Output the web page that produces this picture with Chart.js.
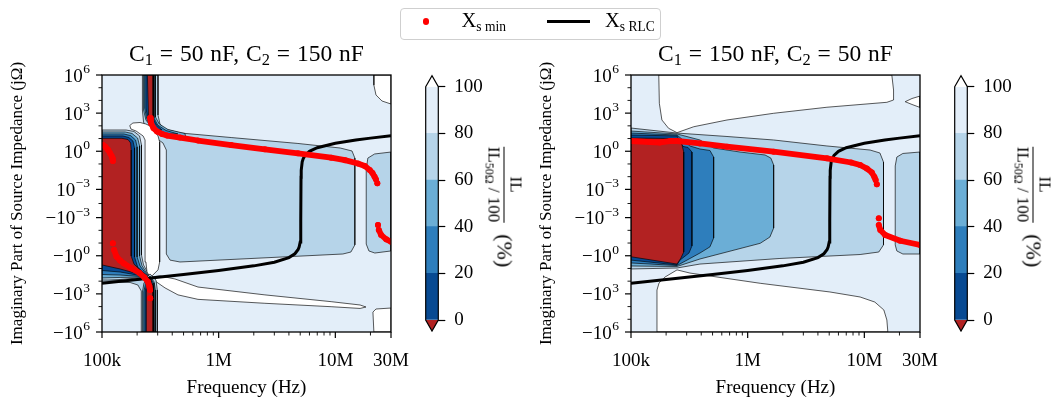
<!DOCTYPE html>
<html>
<head>
<meta charset="utf-8">
<script src="https://cdn.jsdelivr.net/npm/chart.js@4.4.1/dist/chart.umd.min.js"></script>
<style>
body{margin:0;background:#fff;font-family:"Liberation Serif","Times New Roman",serif;color:#000;}
#wrap{position:relative;width:1057px;height:398px;overflow:hidden;background:#fff;}
canvas{position:absolute;top:0;}
.txt{position:absolute;white-space:nowrap;line-height:1;}
.ttl{font-size:23.5px;word-spacing:1px;transform:translateX(-50%);}
sub{font-size:70%;vertical-align:-0.25em;line-height:0;}
#leg{position:absolute;left:400px;top:8px;width:259px;height:30px;border:1.5px solid #cfcfcf;border-radius:4px;background:#fff;}
.legtxt{font-size:20.5px;}
.legtxt sub{font-size:66%;vertical-align:-0.3em;}
.cbl{position:absolute;transform:translate(-50%,-50%) rotate(90deg);display:flex;align-items:center;white-space:nowrap;}
.frac{display:inline-flex;flex-direction:column;align-items:center;font-size:17px;line-height:1;}
.num{padding-bottom:3px;}
.den{border-top:1.3px solid #000;padding-top:1px;}
.pct{font-size:22px;margin-left:12px;line-height:1;}
</style>
</head>
<body>
<div id="wrap">
  <canvas id="plotL" width="430" height="398" style="left:0"></canvas>
  <canvas id="cbarL" width="100" height="398" style="left:400px"></canvas>
  <canvas id="plotR" width="430" height="398" style="left:529px"></canvas>
  <canvas id="cbarR" width="100" height="398" style="left:929px"></canvas>

  <div class="txt ttl" style="left:246.5px;top:42px">C<sub>1</sub> = 50 nF, C<sub>2</sub> = 150 nF</div>
  <div class="txt ttl" style="left:775.5px;top:42px">C<sub>1</sub> = 150 nF, C<sub>2</sub> = 50 nF</div>

  <div id="leg"></div>
  <div style="position:absolute;left:422.7px;top:18.2px;width:6.6px;height:6.6px;border-radius:50%;background:#ff0000"></div>
  <div class="txt legtxt" style="left:461.5px;top:10px">X<sub>s min</sub></div>
  <div style="position:absolute;left:546.7px;top:20px;width:43.3px;height:3px;background:#000"></div>
  <div class="txt legtxt" style="left:605px;top:10px">X<sub>s RLC</sub></div>

  <div class="cbl" style="left:505px;top:207px"><span class="frac"><span class="num">IL</span><span class="den">IL<sub>50Ω</sub> / 100</span></span><span class="pct">(%)</span></div>
  <div class="cbl" style="left:1034px;top:207px"><span class="frac"><span class="num">IL</span><span class="den">IL<sub>50Ω</sub> / 100</span></span><span class="pct">(%)</span></div>
</div>
<script>
// contour level colours: 0-20, 20-40, 40-60, 60-80, 80-100 ; below 0 / above 100
const levelColors = ['#084a92', '#2e7ebc', '#6baed6', '#b6d4e9', '#e3eef9'];
const underColor = '#b22222';
const overColor = '#ffffff';
const cbarLevels = [0, 20, 40, 60, 80, 100];

const xTickVals = [1e5, 1e6, 1e7, 3e7];
const xTickText = ['100k', '1M', '10M', '30M'];
const xMinorVals = [2e5, 3e5, 4e5, 5e5, 6e5, 7e5, 8e5, 9e5, 2e6, 3e6, 4e6, 5e6, 6e6, 7e6, 8e6, 9e6, 2e7];
const yTickVals = [1e6, 1e3, 1, 1e-3, -1e-3, -1, -1e3, -1e6];
const yTickText = ['10^6', '10^3', '10^0', '10^\u22123', '\u221210^\u22123', '\u221210^0', '\u221210^3', '\u221210^6'];
const yMinorVals = [1e5, 1e4, 1e2, 1e1, 1e-1, 1e-2, 0, -1e-2, -1e-1, -1e1, -1e2, -1e4, -1e5];

// X_s RLC (same in both panels): frequency (Hz), reactance (ohm)
const rlcFreq = [1e5, 2e5, 5e5, 1e6, 2e6, 3e6, 4e6, 4.5e6, 4.8e6, 4.9e6, 5e6, 5.03e6, 5.05e6, 5.06e6, 5.07e6, 5.08e6, 5.1e6, 5.2e6, 5.3e6, 5.5e6, 6e6, 7e6, 1e7, 1.5e7, 2e7, 3e7];
const rlcReact = [-148, -73.9, -29.3, -14.2, -6.25, -3.21, -1.40, -0.70, -0.322, -0.201, -0.083, -0.048, -0.026, -0.014, -0.002, 0.009, 0.032, 0.146, 0.257, 0.473, 0.986, 1.914, 4.27, 7.65, 10.77, 16.77];

// ---- left panel: C1 = 50 nF, C2 = 150 nF  (points: [Hz, ohm]) ----
const aMain60 = [[2.22e5,1e6],[3.02e5,1e6],[3.02e5,710],[3.14e5,139],[3.47e5,56],[4.75e5,27],[1.28e6,12],[4.78e6,4.1],[1.1e7,1.8],[1.39e7,1.05],[1.47e7,0.29],[1.47e7,-0.14],[1.36e7,-0.51],[1.16e7,-0.73],[4.66e5,-3.1],[3.83e5,-2.2],[3.56e5,-0.73],[3.56e5,1.25],[3.33e5,4.5],[3.02e5,8.4],[2.68e5,16],[2.43e5,39],[2.27e5,200],[2.22e5,1.76e3]];
const aRight60 = [[1.84e7,0.034],[1.9e7,0.29],[2.17e7,0.61],[3e7,0.87],[3e7,-0.42],[2.18e7,-0.61],[1.94e7,-0.42],[1.84e7,-0.12]];
const aLeft60 = [[1e5,47],[1.61e5,47],[1.88e5,36],[2.1e5,16],[2.18e5,3.1],[2.18e5,-0.87],[2.27e5,-5.3],[2.58e5,-47],[1.43e5,-74],[1e5,-97]];
const aLeft40 = [[1e5,33],[1.58e5,33],[1.81e5,25],[2.02e5,11],[2.1e5,2.6],[2.1e5,-1.05],[2.2e5,-5.9],[2.53e5,-47],[1.43e5,-51],[1e5,-56]];
const aLeft20 = [[1e5,23],[1.54e5,23],[1.76e5,17],[1.94e5,7.7],[2.0e5,2.2],[2.0e5,-1.25],[2.12e5,-6.4],[2.5e5,-47],[1.43e5,-33],[1e5,-30]];
const aLeft0 = [[1e5,16],[1.51e5,16],[1.7e5,12],[1.84e5,6.4],[1.9e5,1.8],[1.9e5,-1.25],[2.02e5,-7.7],[2.48e5,-47],[1.43e5,-19],[1e5,-14.5]];
const aLeftUnder = [[1e5,10.4],[1.48e5,10.4],[1.67e5,8.4],[1.76e5,4.5],[1.78e5,1.25],[1.78e5,-1.05],[1.88e5,-4.5],[2.43e5,-43],[1.43e5,-11],[1e5,-5.3]];
const aOverTop = [[2.14e7,1e6],[2.14e7,1.6e5],[2.23e7,2.7e4],[2.51e7,9e3],[3e7,5.2e3],[3e7,1e6]];
const aOverBottom = [[3e7,-1.3e4],[2.23e7,-1.55e4],[2.1e7,-2.7e4],[2.14e7,-1e6],[3e7,-1e6]];
const aOverBand = [[1.73e5,106],[1.84e5,167],[2.12e5,183],[2.38e5,139],[2.58e5,97],[2.79e5,39],[3.02e5,16],[3.12e5,5.3],[3.12e5,-3.1],[3.02e5,-13],[2.68e5,-39],[2.58e5,-47],[2.43e5,-19],[2.38e5,-3.1],[2.34e5,7.7],[2.25e5,16],[1.96e5,39],[1.77e5,56]];
const aOverTongue = [[2.58e5,-47],[3.14e5,-39],[4.22e5,-67],[6.65e5,-290],[2.49e6,-1.2e3],[9.2e6,-4.1e3],[1.63e7,-7.5e3],[1.83e7,-1.08e4],[1.63e7,-1.4e4],[9.2e6,-1.02e4],[2.49e6,-5.5e3],[6.65e5,-2.7e3],[4.48e5,-1.2e3],[3.47e5,-340],[2.85e5,-97]];
const aTop40 = [[2.27e5,1e6],[2.87e5,1e6],[2.87e5,495],[3.1e5,139],[3.68e5,51],[5.14e5,25],[5.25e5,11],[3.68e5,15.8],[3.02e5,27],[2.63e5,81],[2.38e5,288],[2.27e5,1.76e3]];
const aTop20 = [[2.32e5,1e6],[2.79e5,1e6],[2.79e5,413],[3.0e5,116],[3.54e5,43],[4.48e5,23],[3.47e5,23],[2.9e5,39],[2.58e5,97],[2.41e5,413],[2.32e5,2.5e3]];
const aTop0 = [[2.38e5,1e6],[2.76e5,1e6],[2.76e5,344],[2.93e5,116],[3.27e5,47],[2.85e5,56],[2.58e5,139],[2.45e5,593],[2.38e5,2.5e3]];
const aTopUnder = [[2.45e5,1e6],[2.74e5,1e6],[2.74e5,288],[2.58e5,240],[2.5e5,711]];
const aBot60 = [[2.58e5,-27],[2.9e5,-81],[2.98e5,-495],[2.98e5,-1e6],[2.17e5,-1e6],[2.17e5,-593],[2.03e5,-200],[1.74e5,-127],[1e5,-116],[1e5,-81],[1.92e5,-89],[2.34e5,-67]];
const aBot40 = [[2.58e5,-39],[2.8e5,-116],[2.87e5,-495],[2.87e5,-1e6],[2.22e5,-1e6],[2.22e5,-711],[2.29e5,-139]];
const aBot20 = [[2.58e5,-47],[2.76e5,-139],[2.79e5,-593],[2.79e5,-1e6],[2.28e5,-1e6],[2.28e5,-711],[2.38e5,-116]];
const aBot0 = [[2.58e5,-51],[2.72e5,-200],[2.76e5,-711],[2.76e5,-1e6],[2.34e5,-1e6],[2.34e5,-711],[2.43e5,-116]];
const aBotUnder = [[2.58e5,-56],[2.74e5,-240],[2.74e5,-1e6],[2.4e5,-1e6],[2.4e5,-711],[2.48e5,-139]];
// X_s min, left panel
const aMin1 = [[1.02e5,3.1],[1.07e5,2.2],[1.13e5,1.25],[1.17e5,0.73],[1.21e5,0.42],[1.23e5,0.27],[1.24e5,0.17]];
const aMin2 = [[1.24e5,-0.105]];
const aMin3 = [[1.27e5,-0.35],[1.33e5,-1.15],[1.43e5,-2.4],[1.54e5,-4.1],[1.77e5,-9.2],[2.1e5,-23],[2.31e5,-51],[2.48e5,-116],[2.55e5,-290],[2.58e5,-495]];
const aMin4 = [[2.59e5,-2.2e3]];
const aMin5 = [[2.58e5,413],[2.63e5,167],[2.76e5,67],[2.96e5,36],[3.27e5,23],[3.61e5,17],[4.66e5,12],[6.65e5,7],[1.28e6,3.1],[2.49e6,1.42],[4.78e6,0.69],[9.2e6,0.31],[1.21e7,0.2],[1.56e7,0.11],[1.79e7,0.069],[1.97e7,0.034],[2.08e7,0.0195],[2.17e7,0.01],[2.23e7,0.006]];
const aMin6 = [[2.29e7,0.003]];
const aMin7 = [[2.32e7,-0.0038]];
const aMin8 = [[2.36e7,-0.0094],[2.47e7,-0.023],[2.73e7,-0.051],[3e7,-0.079]];

// ---- right panel: C1 = 150 nF, C2 = 50 nF ----
const b60 = [[1e5,67],[2.48e5,27],[6.65e5,14.5],[1.67e6,7.7],[4.78e6,2.6],[1.12e7,1.25],[1.36e7,0.73],[1.46e7,0.14],[1.46e7,-0.14],[1.33e7,-0.51],[9.2e6,-0.8],[1.89e6,-1.64],[3.9e5,-4.5],[2.48e5,-9.2],[1e5,-11]];
const bRight60 = [[1.84e7,0.07],[1.9e7,0.35],[2.14e7,0.67],[3e7,0.87],[3e7,-0.73],[2.14e7,-0.73],[1.9e7,-0.42],[1.84e7,-0.14]];
const b40 = [[1e5,39],[2.48e5,23],[3.9e5,7.7],[5.11e5,1.8],[8.6e5,0.87],[1.41e6,0.51],[1.58e6,0.29],[1.67e6,0.083],[1.67e6,-0.0066],[1.55e6,-0.034],[1.28e6,-0.105],[3.9e5,-1.8],[2.48e5,-7],[1e5,-6.4]];
const b20 = [[1e5,27],[2.48e5,19],[3.2e5,2.6],[3.9e5,1.5],[4.75e5,1.15],[5.11e5,0.35],[5.11e5,-0.04],[4.75e5,-0.2],[3.9e5,-0.61],[2.48e5,-5.9],[1e5,-3.7]];
const b0 = [[1e5,19],[2.48e5,16],[2.79e5,2.4],[3.08e5,2],[3.33e5,0.87],[3.33e5,-0.17],[3.14e5,-0.61],[2.63e5,-2.2],[2.48e5,-5.3],[1e5,-2.2]];
const bUnder = [[1e5,11],[2.48e5,10],[2.74e5,3.1],[2.83e5,0.87],[2.83e5,-0.51],[2.68e5,-1.5],[2.48e5,-4.5],[1e5,-1.2]];
const bOverTop = [[1.73e5,1e6],[1.75e5,5.9e3],[1.84e5,288],[2.1e5,64],[2.48e5,29],[3.45e5,85],[6.65e5,288],[1.67e6,970],[4.78e6,2.9e3],[1.56e7,7.1e3],[1.78e7,1.08e4],[1.78e7,6.6e4],[1.72e7,1e6]];
const bOverLens = [[2.24e7,7.9e3],[2.56e7,1.41e4],[3e7,2.2e4],[3e7,2.8e3],[2.56e7,4.8e3]];
const bOverBottom = [[1.67e5,-1e6],[1.67e5,-495],[1.74e5,-139],[1.96e5,-47],[2.48e5,-13],[3.2e5,-23],[1.28e6,-147],[5.07e6,-710],[9.2e6,-1.76e3],[1.23e7,-4.4e3],[1.47e7,-1.85e4],[1.56e7,-1.14e5],[1.59e7,-1e6]];
// X_s min, right panel
const bMin1 = [[1e5,6.4],[1.46e5,5.3],[1.77e5,4.9],[2.16e5,6.4],[2.48e5,6.4],[3.9e5,4.1],[6.65e5,2.3],[1.67e6,0.92],[4.78e6,0.28],[7.7e6,0.13],[9.2e6,0.083],[1.05e7,0.044],[1.16e7,0.021],[1.22e7,0.0094],[1.25e7,0.0055]];
const bMin2 = [[1.28e7,0.0025]];
const bMin3 = [[1.33e7,-0.00113]];
const bMin4 = [[1.33e7,-0.0038],[1.37e7,-0.0094],[1.51e7,-0.023],[2.03e7,-0.066],[3e7,-0.14]];

const fontFam = '"Liberation Serif", "Times New Roman", serif';
const linThresh = 1e-3, linScale = 1 / (1 - 1 / 10);
function sy(v) {
  const a = Math.abs(v);
  return a <= linThresh ? v / linThresh * linScale : Math.sign(v) * (Math.log10(a / linThresh) + linScale);
}
const yLim = sy(1e6);
function toPts(arr) { return arr.map(p => ({ x: p[0], y: sy(p[1]) })); }
function levelFill(l) { return l < 0 ? underColor : (l > 4 ? overColor : levelColors[l]); }

const plotDeco = {
  id: 'plotDeco',
  beforeDatasetsDraw(chart) {
    const { ctx, chartArea: a } = chart;
    ctx.save();
    ctx.fillStyle = levelColors[4];
    ctx.fillRect(a.left, a.top, a.width, a.height);
    ctx.restore();
  },
  afterDatasetsDraw(chart) {
    const { ctx, chartArea: a, scales: { x, y } } = chart;
    ctx.save();
    ctx.strokeStyle = '#000';
    ctx.fillStyle = '#000';
    ctx.lineWidth = 1.3;
    ctx.strokeRect(a.left, a.top, a.width, a.height);
    function tick(x1, y1, x2, y2, w) { ctx.lineWidth = w; ctx.beginPath(); ctx.moveTo(x1, y1); ctx.lineTo(x2, y2); ctx.stroke(); }
    xTickVals.forEach(v => { const px = x.getPixelForValue(v); tick(px, a.bottom, px, a.bottom + 6, 1.2); });
    xMinorVals.forEach(v => { const px = x.getPixelForValue(v); tick(px, a.bottom, px, a.bottom + 3.5, 0.9); });
    yTickVals.forEach(v => { const py = y.getPixelForValue(sy(v)); tick(a.left, py, a.left - 6, py, 1.2); });
    yMinorVals.forEach(v => { const py = y.getPixelForValue(sy(v)); tick(a.left, py, a.left - 3.5, py, 0.9); });
    ctx.textBaseline = 'alphabetic';
    ctx.textAlign = 'center';
    ctx.font = '19px ' + fontFam;
    xTickVals.forEach((v, i) => ctx.fillText(xTickText[i], x.getPixelForValue(v), a.bottom + 33.5));
    ctx.textAlign = 'right';
    const right = a.left - 12;
    yTickVals.forEach((v, i) => {
      const py = y.getPixelForValue(sy(v));
      const [base, exp] = yTickText[i].split('^');
      ctx.font = '13.5px ' + fontFam;
      const ew = ctx.measureText(exp).width;
      ctx.fillText(exp, right, py - 2);
      ctx.font = '19px ' + fontFam;
      ctx.fillText(base, right - ew - 0.5, py + 6.5);
    });
    ctx.restore();
  }
};

function buildPlot(id, layers, minSegs) {
  const ds = [];
  layers.forEach(([poly, lvl]) => ds.push({
    data: toPts(poly.concat([poly[0]])), showLine: true, fill: 'shape',
    backgroundColor: levelFill(lvl), borderColor: '#000', borderWidth: 0.65,
    pointRadius: 0, tension: 0, clip: 0
  }));
  ds.push({
    data: toPts(rlcFreq.map((f, i) => [f, rlcReact[i]])), showLine: true, fill: false,
    borderColor: '#000', borderWidth: 3, pointRadius: 0, tension: 0, clip: 0
  });
  minSegs.forEach(seg => ds.push({
    data: toPts(seg), showLine: true, fill: false, borderColor: '#ff0000', borderWidth: 5.8,
    borderCapStyle: 'round', borderJoinStyle: 'round', pointRadius: 3,
    pointBackgroundColor: '#ff0000', pointBorderWidth: 0, tension: 0, clip: 0
  }));
  ds.forEach((d, i) => d.order = ds.length - i);
  return new Chart(document.getElementById(id), {
    type: 'scatter',
    data: { datasets: ds },
    options: {
      responsive: false, animation: false, events: [],
      layout: { padding: { top: 75, right: 39, bottom: 0, left: 0 } },
      plugins: { legend: { display: false }, tooltip: { enabled: false } },
      scales: {
        x: {
          type: 'logarithmic', min: 1e5, max: 3e7,
          afterFit(s) { s.height = 66; },
          ticks: { display: false }, grid: { display: false }, border: { display: false },
          title: { display: true, text: 'Frequency (Hz)', color: '#000', font: { family: fontFam, size: 19, lineHeight: 1 }, padding: 0 }
        },
        y: {
          type: 'linear', min: -yLim, max: yLim,
          afterFit(s) { s.width = 102; },
          ticks: { display: false }, grid: { display: false }, border: { display: false },
          title: { display: true, text: 'Imaginary Part of Source Impedance (jΩ)', color: '#000', font: { family: fontFam, size: 17, lineHeight: 1.2 }, padding: { top: 7, bottom: 0 } }
        }
      }
    },
    plugins: [plotDeco]
  });
}

const cbarDeco = {
  id: 'cbarDeco',
  afterDatasetsDraw(chart) {
    const { ctx, chartArea: a, scales: { y } } = chart;
    const top = y.getPixelForValue(cbarLevels[cbarLevels.length - 1]);
    const bot = y.getPixelForValue(cbarLevels[0]);
    const mid = (a.left + a.right) / 2, ext = 11;
    ctx.save();
    ctx.beginPath(); ctx.moveTo(a.left, top); ctx.lineTo(mid, top - ext); ctx.lineTo(a.right, top); ctx.closePath();
    ctx.fillStyle = overColor; ctx.fill();
    ctx.beginPath(); ctx.moveTo(a.left, bot); ctx.lineTo(mid, bot + ext); ctx.lineTo(a.right, bot); ctx.closePath();
    ctx.fillStyle = underColor; ctx.fill();
    ctx.beginPath();
    ctx.moveTo(a.left, top); ctx.lineTo(mid, top - ext); ctx.lineTo(a.right, top);
    ctx.lineTo(a.right, bot); ctx.lineTo(mid, bot + ext); ctx.lineTo(a.left, bot); ctx.closePath();
    ctx.strokeStyle = '#000'; ctx.lineWidth = 1.2; ctx.stroke();
    ctx.restore();
  }
};

function buildCbar(id) {
  const ds = levelColors.map((c, i) => ({
    data: [[cbarLevels[i], cbarLevels[i + 1]]], backgroundColor: c, borderWidth: 0,
    barPercentage: 1, categoryPercentage: 1, grouped: false
  }));
  return new Chart(document.getElementById(id), {
    type: 'bar',
    data: { labels: [''], datasets: ds },
    options: {
      responsive: false, animation: false, events: [],
      layout: { padding: { top: 86.7, bottom: 78, left: 25.7, right: 0 } },
      plugins: { legend: { display: false }, tooltip: { enabled: false } },
      scales: {
        x: { display: false },
        y: {
          position: 'right', min: 0, max: 100,
          afterFit(s) { s.width = 61.7; },
          afterBuildTicks(s) { s.ticks = cbarLevels.map(v => ({ value: v })); },
          ticks: { color: '#000', font: { family: fontFam, size: 19 }, padding: 9 },
          grid: { drawOnChartArea: false, tickLength: 7, tickWidth: 1.2, tickColor: '#000' },
          border: { display: false }
        }
      }
    },
    plugins: [cbarDeco]
  });
}

buildPlot('plotL', [
  [aMain60, 3], [aRight60, 3],
  [aLeft60, 3], [aLeft40, 2], [aLeft20, 1], [aLeft0, 0], [aLeftUnder, -1],
  [aOverTop, 5], [aOverBottom, 5], [aOverBand, 5], [aOverTongue, 5],
  [aTop40, 2], [aTop20, 1], [aTop0, 0], [aTopUnder, -1],
  [aBot60, 3], [aBot40, 2], [aBot20, 1], [aBot0, 0], [aBotUnder, -1]
], [aMin1, aMin2, aMin3, aMin4, aMin5, aMin6, aMin7, aMin8]);

buildPlot('plotR', [
  [b60, 3], [bRight60, 3], [b40, 2], [b20, 1], [b0, 0], [bUnder, -1],
  [bOverTop, 5], [bOverLens, 5], [bOverBottom, 5]
], [bMin1, bMin2, bMin3, bMin4]);

buildCbar('cbarL');
buildCbar('cbarR');
</script>
</body>
</html>
